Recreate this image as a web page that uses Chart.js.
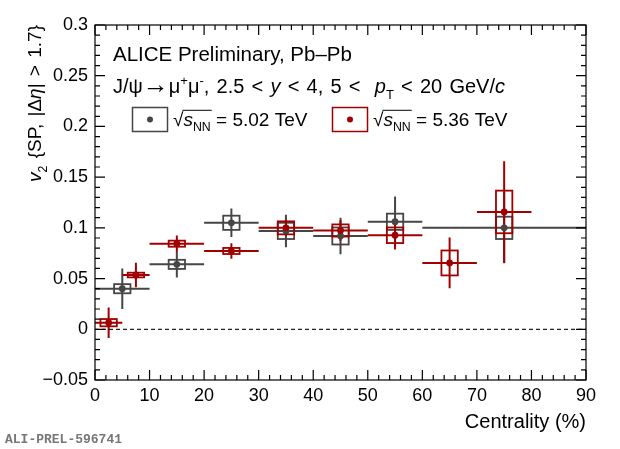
<!DOCTYPE html>
<html>
<head>
<meta charset="utf-8">
<script src="https://cdn.jsdelivr.net/npm/chart.js@4.4.1/dist/chart.umd.min.js"></script>
<style>
  html, body { margin: 0; padding: 0; background: #fff; }
  canvas { display: block; }
</style>
</head>
<body>
<canvas id="c" width="620" height="449"></canvas>
<script>
// 5.02 TeV (grey)
const cent502 = [5, 15, 25, 35, 45, 55, 75];
const lo502 = [0, 10, 20, 30, 40, 50, 60];
const hi502 = [10, 20, 30, 40, 50, 60, 90];
const v2_502 = [0.040, 0.064, 0.105, 0.097, 0.092, 0.106, 0.100];
const stat502 = [0.020, 0.013, 0.014, 0.016, 0.018, 0.025, 0.035];
const syst502 = [0.0045, 0.0045, 0.007, 0.008, 0.0084, 0.008, 0.011];

// 5.36 TeV (red)
const cent536 = [2.5, 7.5, 15, 25, 35, 45, 55, 65, 75];
const lo536 = [0, 5, 10, 20, 30, 40, 50, 60, 70];
const hi536 = [5, 10, 20, 30, 40, 50, 60, 70, 80];
const v2_536 = [0.0065, 0.0535, 0.0844, 0.0772, 0.100, 0.0974, 0.0927, 0.0654, 0.1157];
const stat536 = [0.015, 0.012, 0.008, 0.0077, 0.008, 0.010, 0.014, 0.025, 0.050];
const syst536 = [0.0036, 0.0023, 0.003, 0.003, 0.0064, 0.006, 0.0077, 0.0123, 0.021];

const energies = ['5.02', '5.36'];
const xTicks = [0, 10, 20, 30, 40, 50, 60, 70, 80, 90];
const yTicks = [-0.05, 0, 0.05, 0.1, 0.15, 0.2, 0.25, 0.3];

const GRAY = '#464646';
const RED = '#a00000';
const FONT = '"Liberation Sans", Arial, Helvetica, sans-serif';
const BOX_HALF = 1.5; // syst box half width, in centrality units

const series = [
  { c: cent502, lo: lo502, hi: hi502, v: v2_502, st: stat502, sy: syst502, color: GRAY },
  { c: cent536, lo: lo536, hi: hi536, v: v2_536, st: stat536, sy: syst536, color: RED },
];

// draws a run of text pieces (italic / sub / sup), returns the width.
// extra = additional px per space (ROOT latex spaces are wide)
function rich(ctx, parts, x, y, size, extra = 0, draw = true) {
  let cx = x;
  for (const p of parts) {
    const s = (p.sub || p.sup) ? size * 0.65 : size * (p.scale || 1);
    ctx.font = (p.it ? 'italic ' : '') + s + 'px ' + FONT;
    const dy = p.sub ? size * 0.3 : p.sup ? -size * 0.4 : 0;
    p.t.split(' ').forEach((tk, j) => {
      if (j > 0) cx += ctx.measureText(' ').width + extra;
      if (draw && tk) ctx.fillText(tk, cx, y + dy);
      cx += ctx.measureText(tk).width;
    });
  }
  return cx - x;
}

function fitExtra(ctx, parts, size, target) {
  const w = rich(ctx, parts, 0, 0, size, 0, false);
  const n = parts.reduce((a, p) => a + p.t.split(' ').length - 1, 0);
  return n ? (target - w) / n : 0;
}

function sqrtS(ctx, x, y, size, rest) {
  ctx.font = size + 'px ' + FONT;
  ctx.fillText('\u221A', x, y);
  const w0 = ctx.measureText('\u221A').width;
  const w1 = rich(ctx, [{ t: 's', it: true }, { t: 'NN', sub: true }], x + w0, y, size);
  ctx.save();
  ctx.lineWidth = 1;
  ctx.beginPath();
  ctx.moveTo(x + w0 - 1, y - size * 0.8);
  ctx.lineTo(x + w0 + w1 + 1, y - size * 0.8);
  ctx.stroke();
  ctx.restore();
  rich(ctx, [{ t: rest }], x + w0 + w1, y, size);
}

const errorBars = {
  id: 'errorBars',
  beforeDatasetsDraw(chart) {
    const { ctx, scales: { x, y } } = chart;
    ctx.save();
    for (const s of series) {
      ctx.strokeStyle = s.color;
      for (let i = 0; i < s.c.length; i++) {
        const px = x.getPixelForValue(s.c[i]);
        const py = y.getPixelForValue(s.v[i]);
        ctx.lineWidth = 2;
        ctx.beginPath();
        ctx.moveTo(x.getPixelForValue(s.lo[i]), py);
        ctx.lineTo(x.getPixelForValue(s.hi[i]), py);
        ctx.moveTo(px, y.getPixelForValue(s.v[i] - s.st[i]));
        ctx.lineTo(px, y.getPixelForValue(s.v[i] + s.st[i]));
        ctx.stroke();
        const bx0 = x.getPixelForValue(s.c[i] - BOX_HALF);
        const bx1 = x.getPixelForValue(s.c[i] + BOX_HALF);
        const by0 = y.getPixelForValue(s.v[i] + s.sy[i]);
        const by1 = y.getPixelForValue(s.v[i] - s.sy[i]);
        ctx.lineWidth = 1.8;
        ctx.strokeRect(bx0, by0, bx1 - bx0, by1 - by0);
      }
    }
    ctx.restore();
  },
  afterDraw(chart) {
    const { ctx, chartArea: a, scales: { x, y } } = chart;
    ctx.save();
    // frame
    ctx.strokeStyle = '#000';
    ctx.lineWidth = 1.2;
    ctx.strokeRect(a.left, a.top, a.right - a.left, a.bottom - a.top);
    // inner ticks, x: major 10, minor 2
    ctx.beginPath();
    for (let k = 0; k <= 45; k++) {
      const px = x.getPixelForValue(k * 2);
      const len = k % 5 === 0 ? 10 : 5;
      ctx.moveTo(px, a.bottom); ctx.lineTo(px, a.bottom - len);
      ctx.moveTo(px, a.top); ctx.lineTo(px, a.top + len);
    }
    // y: major 0.05, minor 0.01
    for (let k = -5; k <= 30; k++) {
      const py = y.getPixelForValue(k / 100);
      const len = k % 5 === 0 ? 10 : 5;
      ctx.moveTo(a.left, py); ctx.lineTo(a.left + len, py);
      ctx.moveTo(a.right, py); ctx.lineTo(a.right - len, py);
    }
    ctx.stroke();

    ctx.fillStyle = '#000';
    ctx.strokeStyle = '#000';
    ctx.textBaseline = 'alphabetic';
    ctx.textAlign = 'left';
    rich(ctx, [{ t: 'ALICE Preliminary, Pb\u2013Pb' }], 113, 61, 20.5);
    const line2 = [
      { t: 'J/\u03C8' }, { t: '\u2192', scale: 1.3 }, { t: '\u03BC' }, { t: '+', sup: true }, { t: '\u03BC' }, { t: '-', sup: true },
      { t: ', 2.5 < ' }, { t: 'y', it: true }, { t: ' < 4, 5 <  ' },
      { t: 'p', it: true }, { t: 'T', sub: true }, { t: ' < 20 GeV/' }, { t: 'c', it: true },
    ];
    rich(ctx, line2, 113, 93, 20, fitExtra(ctx, line2, 20, 392));

    // legend
    const legX = [150, 350];
    [GRAY, RED].forEach((col, i) => {
      ctx.strokeStyle = col;
      ctx.fillStyle = col;
      ctx.lineWidth = 1.5;
      ctx.strokeRect(legX[i] - 17.5, 107.5, 35, 24);
      ctx.beginPath();
      ctx.arc(legX[i], 119.5, 3, 0, Math.PI * 2);
      ctx.fill();
      ctx.fillStyle = '#000';
      ctx.strokeStyle = '#000';
      sqrtS(ctx, legX[i] + 23, 125.5, 19, ' = ' + energies[i] + ' TeV');
    });

    // axis titles
    ctx.fillStyle = '#000';
    ctx.textAlign = 'right';
    ctx.font = '20px ' + FONT;
    ctx.fillText('Centrality (%)', a.right, 428);

    ctx.save();
    ctx.translate(41, a.top);
    ctx.rotate(-Math.PI / 2);
    ctx.textAlign = 'left';
    const yParts = [
      { t: 'v', it: true }, { t: '2', sub: true }, { t: ' {SP, |\u0394' }, { t: '\u03B7', it: true }, { t: '| > 1.7}' },
    ];
    const ex = fitExtra(ctx, yParts, 19, 157);
    rich(ctx, yParts, -157, 0, 19, ex);
    ctx.restore();

    ctx.textAlign = 'left';
    ctx.fillStyle = '#777';
    ctx.font = 'bold 13px "Liberation Mono", "Courier New", monospace';
    ctx.fillText('ALI-PREL-596741', 5, 443);
    ctx.restore();
  },
};

const toPts = s => s.c.map((c, i) => ({ x: c, y: s.v[i] }));

new Chart(document.getElementById('c'), {
  type: 'scatter',
  data: {
    datasets: [
      {
        label: 'zero', data: [{ x: 0, y: 0 }, { x: 90, y: 0 }], showLine: true,
        borderColor: '#222', borderWidth: 1.3, borderDash: [4, 3], pointRadius: 0, order: 3,
      },
      {
        label: energies[0] + ' TeV', data: toPts(series[0]), pointRadius: 3.4,
        backgroundColor: GRAY, borderColor: GRAY, borderWidth: 0, order: 2,
      },
      {
        label: energies[1] + ' TeV', data: toPts(series[1]), pointRadius: 3.4,
        backgroundColor: RED, borderColor: RED, borderWidth: 0, order: 1,
      },
    ],
  },
  options: {
    responsive: false,
    animation: false,
    events: [],
    layout: { padding: { top: 25, right: 34, left: 0, bottom: 0 }, autoPadding: false },
    plugins: { legend: { display: false }, tooltip: { enabled: false } },
    scales: {
      x: {
        type: 'linear', min: 0, max: 90,
        afterBuildTicks: s => { s.ticks = xTicks.map(v => ({ value: v })); },
        ticks: { font: { size: 18, family: FONT }, color: '#000', padding: 5, maxRotation: 0 },
        grid: { display: false, drawTicks: false }, border: { display: false },
        afterFit: s => { s.height = 69; },
      },
      y: {
        min: -0.05, max: 0.3,
        afterBuildTicks: s => { s.ticks = yTicks.map(v => ({ value: v })); },
        ticks: {
          font: { size: 18, family: FONT }, color: '#000', padding: 7,
          callback: v => String(Math.round(v * 100) / 100).replace('-', '\u2212'),
        },
        grid: { display: false, drawTicks: false }, border: { display: false },
        afterFit: s => { s.width = 95; },
      },
    },
  },
  plugins: [errorBars],
});
</script>
</body>
</html>
